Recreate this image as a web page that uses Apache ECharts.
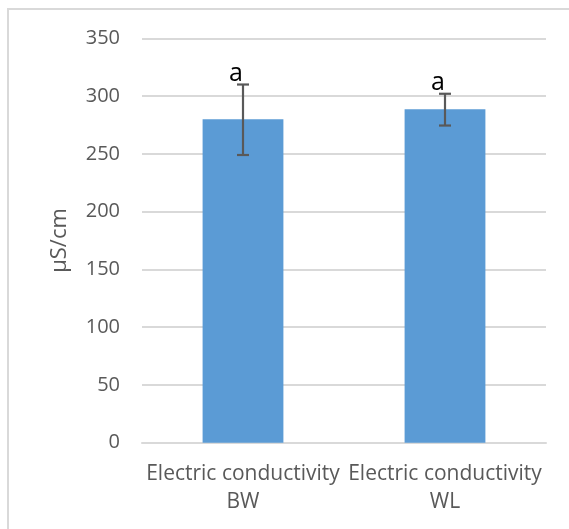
<!DOCTYPE html>
<html>
<head>
<meta charset="utf-8">
<style>
html,body{margin:0;padding:0;background:#fff;}
#chart{width:569px;height:529px;}
</style>
<script src="https://cdn.jsdelivr.net/npm/echarts@6/dist/echarts.min.js"></script>
</head>
<body>
<div id="chart"></div>
<script>
var categories = ['Electric conductivity\nBW', 'Electric conductivity\nWL'];
var means = [280, 288.5];
var errLow = [249, 274.5];
var errHigh = [310, 302];
var letters = ['a', 'a'];
var yTicks = {min: 0, max: 350, interval: 50};
var yTitle = 'μS/cm';

var FONT = 'Open Sans';
var chart = echarts.init(document.getElementById('chart'), null, {renderer: 'canvas'});

var errData = categories.map(function (c, i) { return [i, errLow[i], errHigh[i], letters[i]]; });

chart.setOption({
  animation: false,
  backgroundColor: '#ffffff',
  grid: {left: 142, right: 23, top: 38.3, bottom: 86.3, containLabel: false},
  xAxis: {
    type: 'category',
    data: categories,
    axisLine: {show: true, lineStyle: {color: '#d9d9d9', width: 2}},
    axisTick: {show: false},
    axisLabel: {color: '#595959', fontFamily: FONT, fontSize: 21, lineHeight: 28, margin: 17, interval: 0}
  },
  yAxis: {
    type: 'value',
    min: yTicks.min, max: yTicks.max, interval: yTicks.interval,
    name: yTitle,
    nameLocation: 'middle',
    nameGap: 71,
    nameRotate: 90,
    nameTextStyle: {color: '#595959', fontFamily: FONT, fontSize: 22},
    axisLine: {show: false},
    axisTick: {show: false},
    axisLabel: {color: '#595959', fontFamily: FONT, fontSize: 20, margin: 22},
    splitLine: {lineStyle: {color: '#d9d9d9', width: 2}}
  },
  series: [
    {
      type: 'bar',
      data: means,
      barWidth: '40%',
      itemStyle: {color: '#5b9bd5'}
    },
    {
      type: 'custom',
      data: errData,
      z: 10,
      renderItem: function (params, api) {
        var x = api.value(0);
        var lo = api.coord([x, api.value(1)]);
        var hi = api.coord([x, api.value(2)]);
        var cap = 6;
        var style = {stroke: '#595959', lineWidth: 2.2};
        return {
          type: 'group',
          children: [
            {type: 'line', shape: {x1: hi[0], y1: hi[1], x2: lo[0], y2: lo[1]}, style: style},
            {type: 'line', shape: {x1: hi[0] - cap, y1: hi[1], x2: hi[0] + cap, y2: hi[1]}, style: style},
            {type: 'line', shape: {x1: lo[0] - cap, y1: lo[1], x2: lo[0] + cap, y2: lo[1]}, style: style},
            {type: 'text', x: hi[0] - 7, y: hi[1] - 11, style: {
              text: api.value(3), fill: '#000000', fontFamily: FONT, fontSize: 25,
              align: 'center', verticalAlign: 'middle'
            }}
          ]
        };
      }
    }
  ],
  graphic: [
    {type: 'line', shape: {x1: 7, y1: 9, x2: 569, y2: 9}, style: {stroke: '#d9d9d9', lineWidth: 2}},
    {type: 'line', shape: {x1: 8, y1: 8, x2: 8, y2: 529}, style: {stroke: '#d9d9d9', lineWidth: 2}}
  ]
});
</script>
</body>
</html>
